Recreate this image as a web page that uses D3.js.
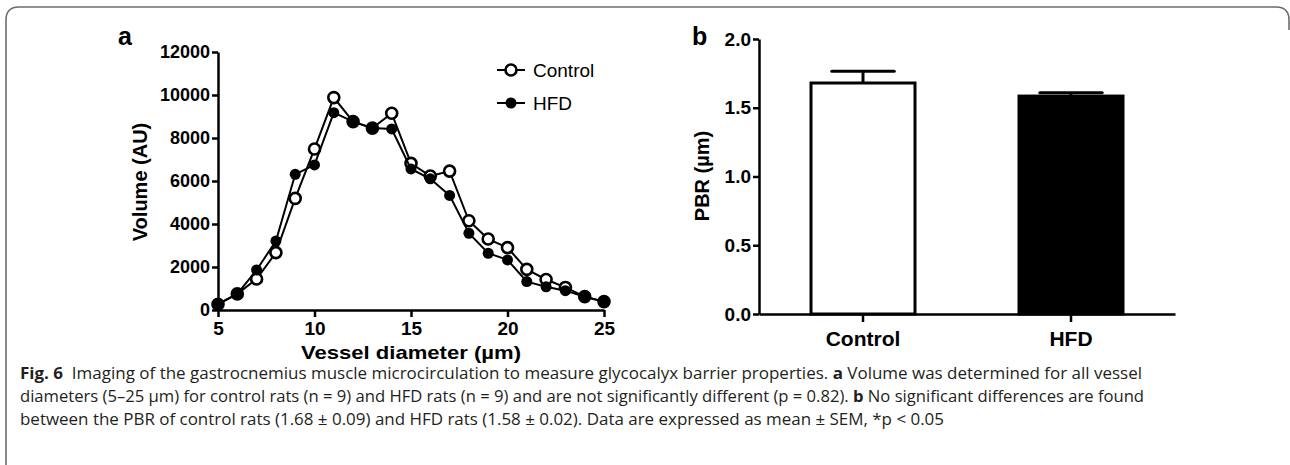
<!DOCTYPE html>
<html>
<head>
<meta charset="utf-8">
<script src="https://cdn.jsdelivr.net/npm/d3@7"></script>
<style>
  body { margin: 0; background: #fff; }
  svg { display: block; }
  .ax text { font-family: Arial, "Liberation Sans", sans-serif; font-weight: bold; fill: #000; }
  .ax path, .ax line { stroke: #000; stroke-width: 2.5; }
</style>
</head>
<body>
<script>
// panel a: volume by vessel diameter
var diameters = [5, 6, 7, 8, 9, 10, 11, 12, 13, 14, 15, 16, 17, 18, 19, 20, 21, 22, 23, 24, 25];
var controlVolume = [270, 750, 1440, 2670, 5190, 7490, 9880, 8760, 8460, 9150, 6820, 6230, 6460, 4150, 3300, 2900, 1890, 1420, 1050, 620, 390];
var hfdVolume = [270, 750, 1860, 3210, 6310, 6750, 9180, 8760, 8460, 8420, 6560, 6100, 5330, 3570, 2640, 2330, 1320, 1080, 900, 620, 380];
var volumeTicks = [0, 2000, 4000, 6000, 8000, 10000, 12000];
var diameterTicks = [5, 10, 15, 20, 25];

// panel b: PBR
var groups = ["Control", "HFD"];
var pbrMean = [1.68, 1.585];
var pbrSem = [0.085, 0.025];
var pbrTicks = [0, 0.5, 1.0, 1.5, 2.0];

var captionLines = [
  [["Fig. 6", true], ["  Imaging of the gastrocnemius muscle microcirculation to measure glycocalyx barrier properties. ", false], ["a", true], [" Volume was determined for all vessel", false]],
  [["diameters (5\u201325 \u00b5m) for control rats (n = 9) and HFD rats (n = 9) and are not significantly different (p = 0.82). ", false], ["b", true], [" No significant differences are found", false]],
  [["between the PBR of control rats (1.68 \u00b1 0.09) and HFD rats (1.58 \u00b1 0.02). Data are expressed as mean \u00b1 SEM, *p < 0.05", false]]
];
var captionWidths = [1122, 1124, 924];

var W = 1290, H = 465;
var svg = d3.select("body").append("svg").attr("width", W).attr("height", H);

// frame
svg.append("path")
  .attr("d", "M6,466 L6,20 Q6,7 19,7 L1276,7 Q1289,7 1289,20 L1289,30")
  .attr("fill", "none").attr("stroke", "#6d6e70").attr("stroke-width", 1.6);

var font = 'Arial, "Liberation Sans", sans-serif';

// ---------- panel a ----------
var xA = d3.scaleLinear().domain([5, 25]).range([218, 604]);
var yA = d3.scaleLinear().domain([0, 12000]).range([310, 52]);

svg.append("g").attr("class", "ax").attr("transform", "translate(0,310)")
  .call(d3.axisBottom(xA).tickValues(diameterTicks).tickSize(7).tickSizeOuter(0).tickPadding(5))
  .selectAll("text").style("font-size", "19px");
svg.append("g").attr("class", "ax").attr("transform", "translate(218,0)")
  .call(d3.axisLeft(yA).tickValues(volumeTicks).tickFormat(d3.format("d")).tickSize(6).tickSizeOuter(0).tickPadding(2))
  .selectAll("text").style("font-size", "18px");

svg.append("text").attr("x", 411).attr("y", 359).attr("text-anchor", "middle")
  .attr("textLength", 220).attr("lengthAdjust", "spacingAndGlyphs")
  .style("font-family", font).style("font-weight", "bold").style("font-size", "19px")
  .text("Vessel diameter (\u00b5m)");
svg.append("text").attr("transform", "translate(147,182) rotate(-90)").attr("text-anchor", "middle")
  .style("font-family", font).style("font-weight", "bold").style("font-size", "20px")
  .text("Volume (AU)");
svg.append("text").attr("x", 118).attr("y", 45)
  .style("font-family", font).style("font-weight", "bold").style("font-size", "25px").text("a");

var line = d3.line().x(function(d) { return xA(d[0]); }).y(function(d) { return yA(d[1]); });
var series = [
  { name: "Control", values: controlVolume, open: true },
  { name: "HFD", values: hfdVolume, open: false }
];

series.forEach(function(s) {
  var pts = diameters.map(function(d, i) { return [d, s.values[i]]; });
  svg.append("path").datum(pts).attr("d", line)
    .attr("fill", "none").attr("stroke", "#000").attr("stroke-width", 2);
  svg.append("g").selectAll("circle").data(pts).enter().append("circle")
    .attr("cx", function(d) { return xA(d[0]); })
    .attr("cy", function(d) { return yA(d[1]); })
    .attr("r", 5.5)
    .attr("fill", s.open ? "#fff" : "#000")
    .attr("stroke", "#000").attr("stroke-width", s.open ? 2.6 : 0);
});

// legend
series.forEach(function(s, i) {
  var ly = 70 + i * 33;
  svg.append("line").attr("x1", 497).attr("x2", 525).attr("y1", ly).attr("y2", ly)
    .attr("stroke", "#000").attr("stroke-width", 2);
  svg.append("circle").attr("cx", 511).attr("cy", ly).attr("r", 5.5)
    .attr("fill", s.open ? "#fff" : "#000").attr("stroke", "#000").attr("stroke-width", s.open ? 2.6 : 0);
  svg.append("text").attr("x", 533).attr("y", ly + 6.5)
    .style("font-family", font).style("font-size", "19px").text(s.name);
});

// ---------- panel b ----------
var xB = d3.scaleBand().domain(groups).range([759, 1175]).paddingInner(0.5).paddingOuter(0.25);
var yB = d3.scaleLinear().domain([0, 2]).range([314, 39]);

var bars = svg.append("g");
groups.forEach(function(g, i) {
  var x0 = xB(g), bw = xB.bandwidth(), cx = x0 + bw / 2;
  var top = yB(pbrMean[i]), errTop = yB(pbrMean[i] + pbrSem[i]);
  bars.append("line").attr("x1", cx).attr("x2", cx).attr("y1", top).attr("y2", errTop)
    .attr("stroke", "#000").attr("stroke-width", 3);
  bars.append("line").attr("x1", cx - bw * 0.3).attr("x2", cx + bw * 0.3).attr("y1", errTop).attr("y2", errTop)
    .attr("stroke", "#000").attr("stroke-width", 3).attr("stroke-linecap", "round");
  bars.append("rect").attr("x", x0).attr("y", top).attr("width", bw).attr("height", yB(0) - top)
    .attr("fill", i === 0 ? "#fff" : "#000").attr("stroke", "#000").attr("stroke-width", 3);
});

svg.append("g").attr("class", "ax").attr("transform", "translate(0,314)")
  .call(d3.axisBottom(xB).tickSize(8).tickSizeOuter(0).tickPadding(9))
  .selectAll("text").style("font-size", "21px");
svg.append("g").attr("class", "ax").attr("transform", "translate(759,0)")
  .call(d3.axisLeft(yB).tickValues(pbrTicks).tickFormat(d3.format(".1f")).tickSize(6).tickSizeOuter(0).tickPadding(2))
  .selectAll("text").style("font-size", "19px");

svg.append("text").attr("transform", "translate(709,176) rotate(-90)").attr("text-anchor", "middle")
  .style("font-family", font).style("font-weight", "bold").style("font-size", "20px")
  .text("PBR (\u00b5m)");
svg.append("text").attr("x", 692).attr("y", 45)
  .style("font-family", font).style("font-weight", "bold").style("font-size", "25px").text("b");

// ---------- caption ----------
captionLines.forEach(function(parts, i) {
  var t = svg.append("text").attr("x", 20).attr("y", 379 + i * 23)
    .attr("textLength", captionWidths[i]).attr("lengthAdjust", "spacingAndGlyphs")
    .style("font-family", '"Open Sans", "Noto Sans", sans-serif').style("font-size", "16px")
    .style("fill", "#231f20").style("white-space", "pre");
  parts.forEach(function(p) {
    t.append("tspan").style("font-weight", p[1] ? "bold" : "normal").text(p[0]);
  });
});
</script>
</body>
</html>
